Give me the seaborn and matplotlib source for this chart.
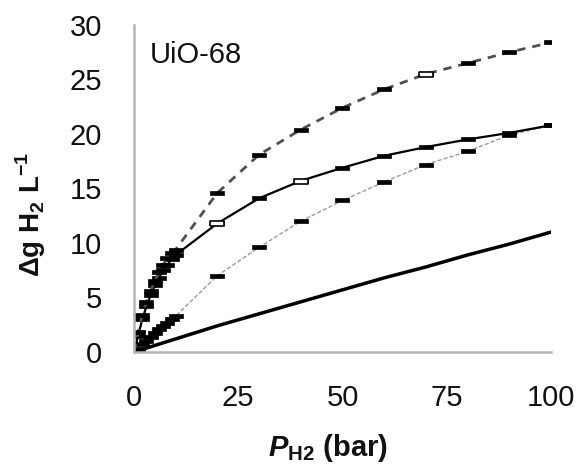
import numpy as np
import seaborn as sns
import matplotlib
matplotlib.use("Agg")
import matplotlib.pyplot as plt
from matplotlib.ticker import MultipleLocator

# pressure grids (bar)
p_low = [0, 1, 2, 3, 4, 5, 6, 7, 8, 9, 10]
p_high = [20, 30, 40, 50, 60, 70, 80, 90, 100]
p_bulk = [0, 10, 20, 30, 40, 50, 60, 70, 80, 90, 100]

# delta g H2 per litre for each curve
dashed_low = [0, 1.8, 3.4, 4.6, 5.6, 6.5, 7.3, 8.0, 8.6, 9.1, 9.4]
dashed_high = [14.6, 18.1, 20.4, 22.4, 24.1, 25.5, 26.5, 27.5, 28.4]
solid_low = [0, 1.5, 3.0, 4.2, 5.2, 6.1, 6.8, 7.5, 8.0, 8.5, 8.9]
solid_high = [11.8, 14.1, 15.7, 16.9, 18.0, 18.8, 19.5, 20.1, 20.8]
dotted_low = [0, 0.3, 0.7, 1.0, 1.4, 1.7, 2.1, 2.4, 2.7, 3.0, 3.3]
dotted_high = [7.0, 9.6, 12.0, 13.9, 15.6, 17.2, 18.4, 19.9, 20.8]
bulk = [0, 1.2, 2.4, 3.5, 4.6, 5.7, 6.8, 7.8, 8.9, 9.9, 11.0]

x_ticklabels = ["0", "25", "50", "75", "100"]

sns.set_style("white")
plt.rcParams["font.family"] = ["Liberation Sans", "DejaVu Sans"]
plt.rcParams["mathtext.fontset"] = "custom"
plt.rcParams["mathtext.rm"] = "Liberation Sans"
plt.rcParams["mathtext.bf"] = "Liberation Sans:bold"
plt.rcParams["mathtext.bfit"] = "Liberation Sans:italic:bold"

fig = plt.figure(figsize=(5.81, 4.67), dpi=100)
ax = fig.add_axes([0.2306, 0.2463, 0.7177, 0.7002])

rect = [(-1, -0.36), (1, -0.36), (1, 0.36), (-1, 0.36), (-1, -0.36)]
mk = dict(marker=rect, markersize=9.5, markerfacecolor="k",
          markeredgecolor="k", markeredgewidth=0.5)

# bulk gas line
sns.lineplot(x=p_bulk, y=bulk, ax=ax, color="k", lw=2.5)

# thin dotted curve
sns.lineplot(x=p_low + p_high, y=dotted_low + dotted_high, ax=ax,
             color="#9a9a9a", lw=1, linestyle=(0, (3, 1.5)), **mk)

# solid curve
sns.lineplot(x=p_low + p_high, y=solid_low + solid_high, ax=ax,
             color="k", lw=1.6, **mk)

# dashed curve
sns.lineplot(x=p_low + p_high, y=dashed_low + dashed_high, ax=ax,
             color="#505050", lw=2, linestyle=(0, (3, 2.5)), **mk)

# a few open markers
open_kw = dict(marker=rect, markersize=10, markerfacecolor="white",
               markeredgecolor="k", markeredgewidth=1.2, linestyle="none")
ax.plot([p_high[0], p_high[2]], [solid_high[0], solid_high[2]], **open_kw)
ax.plot([p_high[5]], [dashed_high[5]], **open_kw)

ax.set_xlim(0, 100)
ax.set_ylim(0, 30)
ax.set_xticks([0, 25, 50, 75, 100], x_ticklabels)
ax.xaxis.set_minor_locator(MultipleLocator(12.5))
ax.yaxis.set_major_locator(MultipleLocator(5))

for s in ["top", "right"]:
    ax.spines[s].set_visible(False)
for s in ["left", "bottom"]:
    ax.spines[s].set_color("#b4b4b4")
    ax.spines[s].set_linewidth(1.8)

ax.tick_params(axis="both", which="both", direction="in", length=7.5,
               width=1.5, color="#b4b4b4", labelsize=21, labelcolor="#111111")
ax.tick_params(axis="y", pad=23)
ax.tick_params(axis="x", pad=23)

ax.text(0.038, 0.95, "UiO-68", transform=ax.transAxes, fontsize=21,
        ha="left", va="top", color="#111111")

ax.set_ylabel(r"Δg H$_\mathbf{2}$ L$^\mathbf{-1}$", fontsize=20,
              fontweight="bold", color="#111111")
ax.yaxis.set_label_coords(-0.205, 0.42)
ax.set_xlabel(r"$\mathbfit{P}_\mathbf{H2}$ (bar)", fontsize=21,
              fontweight="bold", color="#111111")
ax.xaxis.set_label_coords(0.465, -0.245)

fig.savefig("out.png", dpi=100)
